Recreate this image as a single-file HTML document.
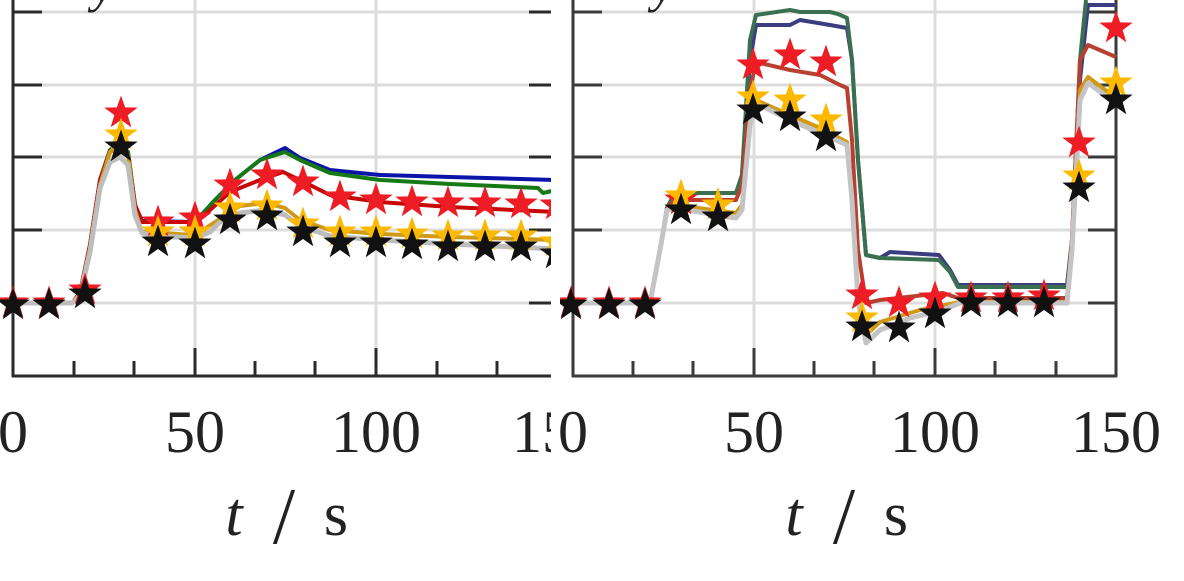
<!DOCTYPE html>
<html><head><meta charset="utf-8"><style>
html,body{margin:0;padding:0;background:#fff;width:1184px;height:581px;overflow:hidden}
svg{display:block}
text{font-family:"Liberation Serif",serif;fill:#222}
</style></head><body>
<svg width="1184" height="581" viewBox="0 0 1184 581" xmlns="http://www.w3.org/2000/svg">
<defs>
<polygon id="st" transform="scale(1.17)" points="0,-15 3.53,-4.85 14.27,-4.64 5.71,1.85 8.82,12.14 0,6 -8.82,12.14 -5.71,1.85 -14.27,-4.64 -3.53,-4.85"/>
<clipPath id="cL"><rect x="0" y="0" width="551" height="581"/></clipPath>
<clipPath id="cR"><rect x="551" y="0" width="633" height="581"/></clipPath>
<clipPath id="pL"><rect x="0" y="0" width="558" height="378"/></clipPath>
<clipPath id="pR"><rect x="560" y="0" width="580" height="378"/></clipPath>
</defs>

<!-- LEFT PANEL -->
<g clip-path="url(#cL)">
<g stroke="#dcdcdc" stroke-width="3">
<line x1="12" y1="12" x2="556" y2="12"/><line x1="12" y1="85" x2="556" y2="85"/><line x1="12" y1="157" x2="556" y2="157"/><line x1="12" y1="230" x2="556" y2="230"/><line x1="12" y1="303" x2="556" y2="303"/>
<line x1="195" y1="0" x2="195" y2="376"/><line x1="376" y1="0" x2="376" y2="376"/>
</g>
<g stroke="#2a2a2a" stroke-width="3" fill="none">
<line x1="13" y1="0" x2="13" y2="377"/><line x1="12" y1="376" x2="556" y2="376"/>
<path d="M13 12h29M13 85h29M13 157h29M13 230h29M13 303h29M529 12h27M529 85h27M529 157h27M529 230h27M529 303h27"/>
<path d="M195 348v28M376 348v28M74 361v15M134 361v15M255 361v15M315 361v15M437 361v15M497 361v15"/>
</g>
<g clip-path="url(#pL)" fill="none" stroke-width="4" stroke-linejoin="round">
<polyline stroke="#0a14a8" points="12,303 72,303 80,293 90,245 100,180 110,150 120,143 128,152 135,205 142,221 195,222 215,200 235,180 260,160 285,148 300,158 330,170 380,175 450,177 556,180"/>
<polyline stroke="#157a15" points="12,303 72,303 80,293 90,245 100,180 110,150 120,145 128,152 135,205 142,222 195,222 215,200 235,180 260,160 285,152 300,160 330,173 380,180 450,184 538,188 543,193 556,190"/>
<polyline stroke="#c80808" points="12,303 72,303 80,293 90,245 100,180 110,152 120,146 128,155 135,205 142,222 195,222 210,210 230,192 260,180 283,172 300,180 330,195 380,202 450,207 556,212"/>
<polyline stroke="#d09a18" points="12,303 72,303 80,294 90,248 100,185 110,152 120,145 128,155 135,210 142,232 195,235 215,222 240,206 265,203 285,208 300,220 330,230 380,234 450,237 556,240"/>
<polyline stroke="#bdbdbd" stroke-width="5" points="12,303 72,303 80,296 90,252 100,188 110,162 120,157 128,165 135,215 142,233 155,236 195,238 210,232 220,222 240,213 265,210 285,215 300,226 330,236 380,240 450,244 556,249"/>
<g stroke="none">
<g fill="#ee1c24">
<use href="#st" x="13" y="303"/><use href="#st" x="49" y="303"/><use href="#st" x="85" y="290"/><use href="#st" x="121" y="113"/><use href="#st" x="158" y="222"/><use href="#st" x="195" y="218"/><use href="#st" x="230" y="185"/><use href="#st" x="267" y="175"/><use href="#st" x="303" y="182"/><use href="#st" x="340" y="197"/><use href="#st" x="376" y="200"/><use href="#st" x="412" y="202"/><use href="#st" x="448" y="203"/><use href="#st" x="485" y="203"/><use href="#st" x="521" y="204"/><use href="#st" x="556" y="205"/>
</g>
<g fill="#fcb900">
<use href="#st" x="121" y="135"/><use href="#st" x="158" y="232"/><use href="#st" x="195" y="232"/><use href="#st" x="230" y="208"/><use href="#st" x="267" y="206"/><use href="#st" x="303" y="224"/><use href="#st" x="340" y="232"/><use href="#st" x="376" y="232"/><use href="#st" x="412" y="234"/><use href="#st" x="448" y="236"/><use href="#st" x="485" y="236"/><use href="#st" x="521" y="236"/><use href="#st" x="556" y="242"/>
</g>
<g fill="#111">
<use href="#st" x="13" y="305"/><use href="#st" x="49" y="305"/><use href="#st" x="85" y="294"/><use href="#st" x="121" y="147"/><use href="#st" x="158" y="242"/><use href="#st" x="195" y="244"/><use href="#st" x="230" y="220"/><use href="#st" x="267" y="216"/><use href="#st" x="303" y="232"/><use href="#st" x="340" y="243"/><use href="#st" x="376" y="243"/><use href="#st" x="412" y="245"/><use href="#st" x="448" y="247"/><use href="#st" x="485" y="247"/><use href="#st" x="521" y="247"/><use href="#st" x="556" y="254"/>
</g>
</g>
</g>
<g font-size="60" text-anchor="middle">
<text x="13" y="452">0</text><text x="195" y="452">50</text><text x="376" y="452">100</text><text x="557" y="452">150</text>
</g>
<text x="234" y="535" font-size="62" font-style="italic" text-anchor="middle">t</text>
<text x="284" y="543" font-size="80" text-anchor="middle">/</text>
<text x="336" y="535" font-size="62" text-anchor="middle">s</text>
<text x="92" y="2" font-size="50" font-style="italic">y</text>
</g>

<!-- RIGHT PANEL -->
<g clip-path="url(#cR)">
<g stroke="#dcdcdc" stroke-width="3">
<line x1="573" y1="12" x2="1116" y2="12"/><line x1="573" y1="85" x2="1116" y2="85"/><line x1="573" y1="157" x2="1116" y2="157"/><line x1="573" y1="230" x2="1116" y2="230"/><line x1="573" y1="303" x2="1116" y2="303"/>
<line x1="754" y1="0" x2="754" y2="376"/><line x1="935" y1="0" x2="935" y2="376"/>
</g>
<g stroke="#3a3a3a" stroke-width="3" fill="none">
<line x1="573" y1="0" x2="573" y2="377"/><line x1="572" y1="376" x2="1117" y2="376"/><line x1="1116" y1="0" x2="1116" y2="377"/>
<path d="M573 12h29M573 85h29M573 157h29M573 230h29M573 303h29M1088 12h28M1088 85h28M1088 157h28M1088 230h28M1088 303h28"/>
<path d="M754 348v28M935 348v28M633 361v15M693 361v15M814 361v15M874 361v15M995 361v15M1056 361v15"/>
</g>
<g clip-path="url(#pR)" fill="none" stroke-width="4" stroke-linejoin="round">
<polyline stroke="#3c3c80" points="573,303 650,303 660,250 667,208 675,193 736,193 742,175 750,60 756,25 790,25 800,20 830,25 847,28 852,60 858,160 866,255 880,258 890,252 939,255 950,270 958,285 1067,285 1072,240 1080,80 1088,5 1116,5"/>
<polyline stroke="#3a7050" points="573,303 650,303 660,250 667,208 675,193 736,193 742,175 750,40 756,15 790,10 800,12 830,12 838,14 847,18 852,60 858,160 866,255 880,258 939,260 950,272 958,287 1067,287 1072,240 1080,60 1086,0"/>
<polyline stroke="#b84030" points="573,303 650,303 660,250 667,208 675,200 736,200 742,185 750,90 756,62 790,70 820,75 840,85 847,88 852,140 858,250 866,303 880,300 943,293 958,298 1067,298 1072,240 1080,60 1088,45 1116,57"/>
<polyline stroke="#d09a18" points="573,303 650,303 660,250 667,210 675,205 736,213 742,205 750,120 756,100 790,115 820,128 847,142 852,200 858,300 866,335 880,322 920,310 960,302 1067,302 1072,250 1080,90 1088,77 1116,98"/>
<polyline stroke="#c4c4c4" stroke-width="5" points="573,303 650,303 660,250 667,210 675,208 736,218 742,210 750,125 756,103 790,120 820,133 847,145 852,200 858,300 866,343 880,330 910,318 943,310 960,303 1067,303 1072,250 1080,100 1088,83 1116,103"/>
<g stroke="none">
<g fill="#ee1c24">
<use href="#st" x="571" y="303"/><use href="#st" x="609" y="303"/><use href="#st" x="645" y="303"/><use href="#st" x="681" y="200"/><use href="#st" x="718" y="205"/><use href="#st" x="753" y="65"/><use href="#st" x="790" y="55"/><use href="#st" x="826" y="62"/><use href="#st" x="862" y="295"/><use href="#st" x="899" y="303"/><use href="#st" x="935" y="298"/><use href="#st" x="971" y="298"/><use href="#st" x="1008" y="298"/><use href="#st" x="1044" y="296"/><use href="#st" x="1079" y="143"/><use href="#st" x="1116" y="28"/>
</g>
<g fill="#fcb900">
<use href="#st" x="681" y="196"/><use href="#st" x="718" y="205"/><use href="#st" x="753" y="97"/><use href="#st" x="790" y="100"/><use href="#st" x="826" y="120"/><use href="#st" x="862" y="318"/><use href="#st" x="1079" y="176"/><use href="#st" x="1116" y="83"/>
</g>
<g fill="#111">
<use href="#st" x="571" y="305"/><use href="#st" x="609" y="305"/><use href="#st" x="645" y="305"/><use href="#st" x="681" y="210"/><use href="#st" x="718" y="217"/><use href="#st" x="753" y="110"/><use href="#st" x="790" y="117"/><use href="#st" x="826" y="137"/><use href="#st" x="862" y="327"/><use href="#st" x="899" y="328"/><use href="#st" x="935" y="314"/><use href="#st" x="971" y="303"/><use href="#st" x="1008" y="303"/><use href="#st" x="1044" y="303"/><use href="#st" x="1079" y="188"/><use href="#st" x="1116" y="100"/>
</g>
</g>
</g>
<g font-size="60" text-anchor="middle">
<text x="573" y="452">0</text><text x="754" y="452">50</text><text x="935" y="452">100</text><text x="1116" y="452">150</text>
</g>
<text x="794" y="535" font-size="62" font-style="italic" text-anchor="middle">t</text>
<text x="844" y="543" font-size="80" text-anchor="middle">/</text>
<text x="896" y="535" font-size="62" text-anchor="middle">s</text>
<text x="652" y="2" font-size="50" font-style="italic">y</text>
</g>
</svg>
</body></html>
